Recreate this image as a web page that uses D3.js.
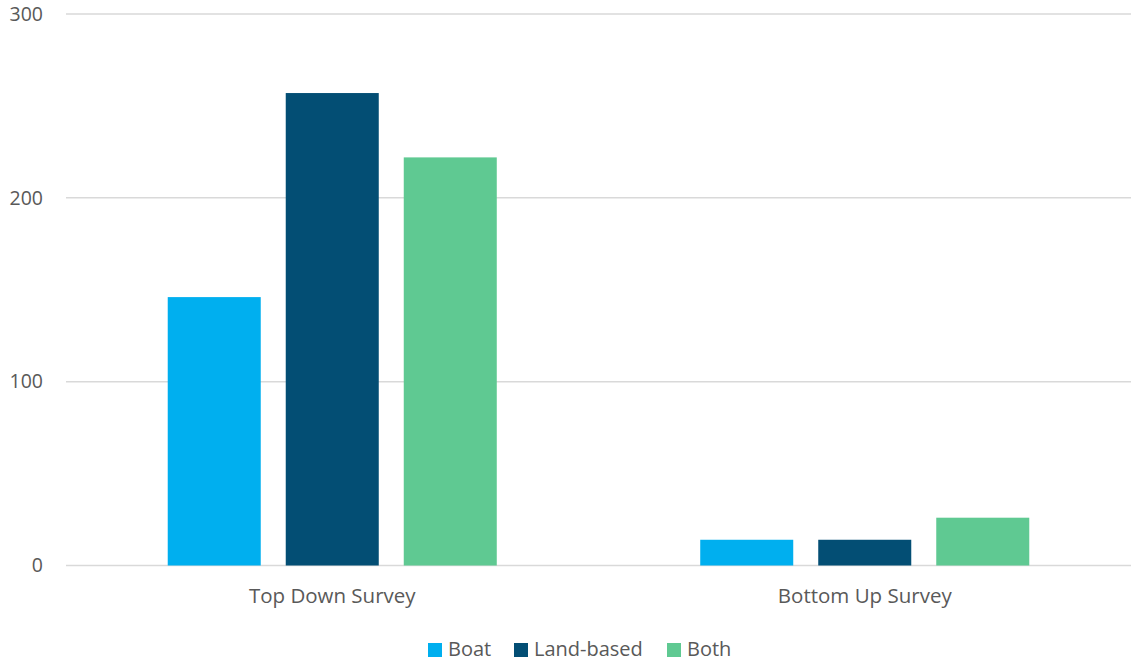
<!DOCTYPE html>
<html>
<head>
<meta charset="utf-8">
<script src="https://cdn.jsdelivr.net/npm/d3@7"></script>
<style>
  body { margin: 0; background: #fff; }
  text { font-family: "Open Sans", sans-serif; fill: #595959; }
</style>
</head>
<body>
<svg id="chart"></svg>
<script>
const categories = ["Top Down Survey", "Bottom Up Survey"];
const series = ["Boat", "Land-based", "Both"];
const colors = ["#00AFEF", "#034E74", "#5FC992"];
const boat = [146, 14];
const landBased = [257, 14];
const both = [222, 26];
const yTicks = [0, 100, 200, 300];

const width = 1131, height = 661;
const margin = { top: 14, right: 0, bottom: 96, left: 66 };
const values = [boat, landBased, both];

const svg = d3.select("#chart")
    .attr("width", width)
    .attr("height", height);

const x0 = d3.scaleBand()
    .domain(categories)
    .range([margin.left, width - margin.right]);

const x1 = d3.scaleBand()
    .domain(series)
    .range([0, x0.bandwidth()])
    .paddingInner(25 / 118)
    .paddingOuter(0.862);

const y = d3.scaleLinear()
    .domain([0, 300])
    .range([height - margin.bottom + 0.5, margin.top]);

// gridlines
svg.append("g")
    .selectAll("line")
    .data(yTicks)
    .join("line")
    .attr("x1", margin.left)
    .attr("x2", width - margin.right)
    .attr("y1", d => y(d))
    .attr("y2", d => y(d))
    .attr("stroke", "#d9d9d9")
    .attr("stroke-width", 1.5);

// y labels
svg.append("g")
    .selectAll("text")
    .data(yTicks)
    .join("text")
    .attr("x", 43)
    .attr("y", d => y(d))
    .attr("dy", "0.35em")
    .style("text-anchor", "end")
    .style("font-size", "19.5px")
    .text(d => d);

// bars
const groups = svg.append("g")
    .selectAll("g")
    .data(categories)
    .join("g")
    .attr("transform", d => `translate(${x0(d)},0)`);

groups.selectAll("rect")
    .data((c, ci) => series.map((s, si) => ({ s, si, v: values[si][ci] })))
    .join("rect")
    .attr("x", d => x1(d.s))
    .attr("width", x1.bandwidth())
    .attr("y", d => y(d.v))
    .attr("height", d => y(0) - y(d.v))
    .attr("fill", d => colors[d.si]);

// category labels
svg.append("g")
    .selectAll("text")
    .data(categories)
    .join("text")
    .attr("x", d => x0(d) + x0.bandwidth() / 2)
    .attr("y", 603)
    .style("text-anchor", "middle")
    .style("font-size", "20.5px")
    .text(d => d);

// legend
const legendX = [428, 514, 667];
const legend = svg.append("g")
    .selectAll("g")
    .data(series)
    .join("g")
    .attr("transform", (d, i) => `translate(${legendX[i]},643)`);

legend.append("rect")
    .attr("width", 14)
    .attr("height", 14)
    .attr("fill", (d, i) => colors[i]);

legend.append("text")
    .attr("x", 20)
    .attr("y", 13)
    .style("font-size", "20px")
    .text(d => d);
</script>
</body>
</html>
